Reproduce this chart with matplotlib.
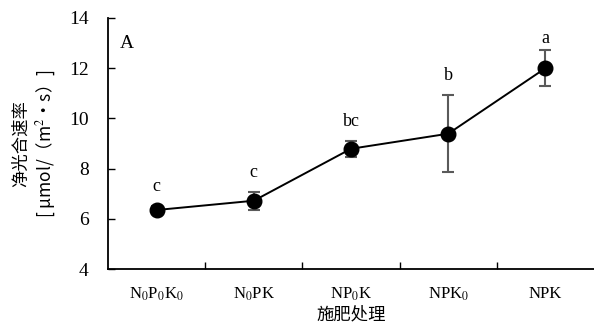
import matplotlib
matplotlib.use("Agg")
import matplotlib.pyplot as plt
import numpy as np

plt.rcParams['font.family'] = ['Liberation Serif', 'DejaVu Serif']
plt.rcParams['mathtext.fontset'] = 'stix'

treatments = ['N$_0$P$_0$K$_0$', 'N$_0$PK', 'NP$_0$K', 'NPK$_0$', 'NPK']
rate = [6.35, 6.72, 8.79, 9.39, 12.0]
err = [0.15, 0.35, 0.32, 1.53, 0.72]
letters = ['c', 'c', 'bc', 'b', 'a']

cjk = ['Noto Sans CJK SC', 'DejaVu Sans']

fig = plt.figure(figsize=(5.94, 3.33), dpi=100)
ax = fig.add_axes([108/594, 1-269/333, 486/594, 251/333])

x = np.arange(len(treatments))
ax.errorbar(x, rate, yerr=err, fmt='none', ecolor='#5a5a5a', elinewidth=1.5,
            capsize=4.5, capthick=1.5, zorder=2)
ax.plot(x, rate, color='black', lw=1.4, marker='o', markersize=10.5, zorder=3)

for xi, yi, e, lab in zip(x, rate, err, letters):
    ax.annotate(lab, (xi, min(yi + e, 12.4)), xytext=(0, 8), textcoords='offset points',
                ha='center', va='bottom', fontsize=13, clip_on=False)

ax.text(0.025, 0.9, 'A', transform=ax.transAxes, fontsize=14, ha='left', va='center')

ax.set_xlim(-0.5, 4.5)
ax.set_ylim(4, 14)
ax.set_yticks([4, 6, 8, 10, 12, 14])
ax.set_xticks(x)
ax.set_xticklabels(treatments, fontsize=12)
ax.set_xticks(x[:-1] + 0.5, minor=True)
ax.tick_params(axis='x', which='major', length=0, pad=12)
ax.tick_params(axis='x', which='minor', direction='in', length=5, width=1)
ax.tick_params(axis='y', direction='in', length=5, width=1, labelsize=14, pad=14)

for s in ['top', 'right']:
    ax.spines[s].set_visible(False)
for s in ['left', 'bottom']:
    ax.spines[s].set_linewidth(1.3)

ax.set_xlabel('施肥处理', family=cjk, fontsize=12.5, labelpad=2)
ax.set_ylabel('净光合速率\n[ μmol/（m$^2$•s）]', family=cjk, fontsize=12.5,
              labelpad=8, linespacing=1.25)

fig.savefig('out.png', dpi=100)
